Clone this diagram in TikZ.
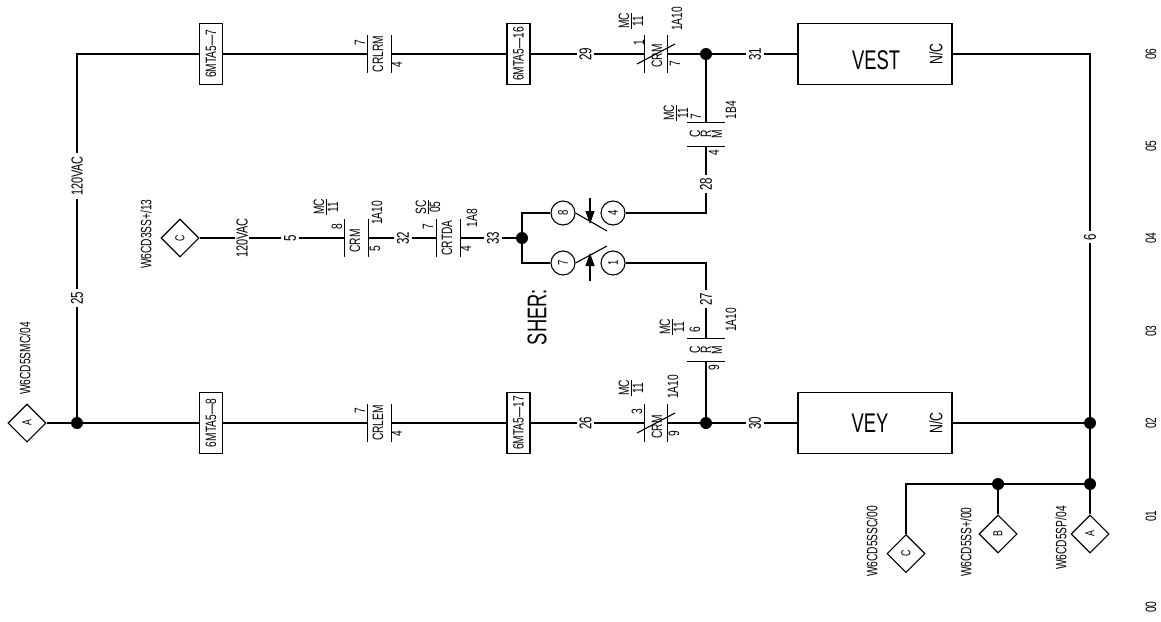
\documentclass[tikz,border=0pt]{standalone}
\usepackage{fontspec}
\setmainfont[FakeStretch=0.68]{Liberation Sans}
\usetikzlibrary{positioning,shapes.geometric,arrows.meta}

\tikzset{
	wire/.style={line width=1.1pt},
	lab/.style={rotate=90, inner sep=0pt, font=\fontsize{15}{14}\selectfont, align=center},
	num/.style={lab, inner sep=2.5pt, font=\fontsize{17}{14}\selectfont},
	tag/.style={lab, draw, line width=1.1pt, fill=white, minimum width=61pt, minimum height=23pt, inner sep=0pt},
	dot/.style={circle, fill=black, minimum size=12pt, inner sep=0pt},
	pin/.style={diamond, draw, line width=1.1pt, aspect=1, minimum size=38pt, inner sep=0pt, font=\fontsize{13}{13}\selectfont},
	ring/.style={circle, draw, line width=1.1pt, minimum size=24pt, inner sep=0pt, font=\fontsize{14}{14}\selectfont},
	coil/.style={draw, line width=1.1pt, minimum width=154pt, minimum height=61pt, inner sep=0pt},
	contact/.style={minimum width=38pt, minimum height=23.4pt, inner sep=0pt,
		append after command={
			(\tikzlastnode.north west) edge[wire] (\tikzlastnode.north east)
			(\tikzlastnode.south west) edge[wire] (\tikzlastnode.south east)}},
	big/.style={inner sep=0pt, font=\fontsize{27}{28}\selectfont},
}

\begin{document}
\begin{tikzpicture}[x=1pt, y=-1pt, on grid]
	\useasboundingbox (0,0) rectangle (1161,621);

	% bottom rail
	\node [dot] (j1) at (77,423) {};
	\node [pin, left=50pt of j1] (pinA) {\rotatebox{90}{A}};
	\node [tag, right=134pt of j1] (tag8) {6MTA5---8};
	\node [contact, rotate=90, right=168.5pt of tag8] (crlem) {};
	\node [tag, right=139pt of crlem] (tag17) {6MTA5---17};
	\node [num, right=67pt of tag17] (w26) {26};
	\node [contact, rotate=90, right=70.5pt of w26] (crmb) {};
	\node [dot, right=50pt of crmb] (j2) {};
	\node [num, right=49pt of j2] (w30) {30};
	\node [coil, right=120pt of w30] (vey) {};
	\node [dot, right=215pt of vey] (j3) {};
	\node [dot, below=61pt of j3] (j4) {};
	\node [dot, left=92pt of j4] (j5) {};
	\coordinate [left=92pt of j5] (cc);
	\node [pin, below=50pt of j4] (pinA2) {\rotatebox{90}{A}};
	\node [pin, below=50pt of j5] (pinB) {\rotatebox{90}{B}};
	\node [pin, below=50pt of cc] (pinC2) {\rotatebox{90}{C}};

	% top rail
	\coordinate [above=369pt of j1] (ctl);
	\node [tag, above=369pt of tag8] (tag7) {6MTA5---7};
	\node [contact, rotate=90, above=369pt of crlem] (crlrm) {};
	\node [tag, above=369pt of tag17] (tag16) {6MTA5---16};
	\node [num, above=369pt of w26] (w29) {29};
	\node [contact, rotate=90, above=369pt of crmb] (crmt) {};
	\node [dot, above=369pt of j2] (j6) {};
	\node [num, above=369pt of w30] (w31) {31};
	\node [coil, above=369pt of vey] (vest) {};
	\coordinate [above=369pt of j3] (ctr);

	% side wires
	\node [num, font=\fontsize{16}{14}\selectfont] (w120) at (77,176) {120VAC};
	\node [num] (w25) at (77,298) {25};
	\node [num, above=186pt of j3] (w6) {6};

	% middle branch
	\node [dot] (j7) at (522,238) {};
	\node [num, left=29pt of j7] (w33) {33};
	\node [contact, rotate=90, left=44.5pt of w33] (crtda) {};
	\node [num, left=45.5pt of crtda] (w32) {32};
	\node [contact, rotate=90, left=46.5pt of w32] (crm) {};
	\node [num, left=66.5pt of crm] (w5) {5};
	\node [num, font=\fontsize{16}{14}\selectfont, inner sep=1pt, left=53pt of w5, yshift=-5pt] (v120) {120VAC};
	\node [pin, left=110pt of w5] (pinC) {\rotatebox{90}{C}};

	% timer switches
	\node [ring, above right=25pt and 41pt of j7] (r8) {\rotatebox{90}{8}};
	\node [ring, below right=25pt and 41pt of j7] (r7) {\rotatebox{90}{7}};
	\node [ring, right=50pt of r8] (r4) {\rotatebox{90}{4}};
	\node [ring, right=50pt of r7] (r1) {\rotatebox{90}{1}};
	\coordinate [above=25pt of j7] (ct1);
	\coordinate [below=25pt of j7] (ct2);
	\coordinate [right=184pt of ct1] (ct3);
	\coordinate [right=184pt of ct2] (ct4);
	\coordinate (arm8) at (607,231);
	\coordinate (arm7) at (607,246);
	\coordinate (a8s) at (590,198);
	\coordinate (a8e) at (590,224);
	\coordinate (a7s) at (590,281);
	\coordinate (a7e) at (590,253);

	% right hand branches
	\node [contact, below=80.5pt of j6] (crmu) {};
	\node [num, below=130pt of j6] (w28) {28};
	\node [contact, above=73pt of j2] (crml) {};
	\node [num, above=124pt of j2] (w27) {27};

	\draw [wire] (pinA) -- (j1) -- (tag8) -- (crlem) -- (tag17) -- (w26) -- (crmb) -- (j2) -- (w30) -- (vey) -- (j3);
	\draw [wire] (j1) -- (w25) -- (w120) -- (ctl) -- (tag7) -- (crlrm) -- (tag16) -- (w29) -- (crmt) -- (j6) -- (w31) -- (vest) -- (ctr) -- (w6) -- (j3) -- (j4) -- (pinA2);
	\draw [wire] (j4) -- (j5) -- (cc) -- (pinC2);
	\draw [wire] (j5) -- (pinB);
	\draw [wire] (pinC) -- (v120.north |- pinC);
	\draw [wire] (v120.south |- pinC) -- (w5) -- (crm) -- (w32) -- (crtda) -- (w33) -- (j7);
	\draw [wire] (r8) -- (ct1) -- (j7) -- (ct2) -- (r7);
	\draw [wire] (r4) -- (ct3) -- (w28) -- (crmu) -- (j6);
	\draw [wire] (r1) -- (ct4) -- (w27) -- (crml) -- (j2);
	\draw [wire] (r8.east) -- (arm8);
	\draw [wire] (r7.east) -- (arm7);
	\draw [wire, -{Triangle[length=13pt,width=9pt]}] (a8s) -- (a8e);
	\draw [wire, -{Triangle[length=13pt,width=9pt]}] (a7s) -- (a7e);
	\draw [wire] ([shift={(-19,10)}]crmt.center) -- ([shift={(19,-10)}]crmt.center);
	\draw [wire] ([shift={(-19,10)}]crmb.center) -- ([shift={(19,-10)}]crmb.center);

	% coil texts
	\node [big, left=5pt of vey] (veyn) {VEY};
	\node [big, right=1pt of vest, yshift=-6pt] (vestn) {VEST};
	\node [lab, font=\fontsize{18}{18}\selectfont, right=61pt of vey] (ncb) {N/C};
	\node [lab, font=\fontsize{18}{18}\selectfont, right=61pt of vest] (nct) {N/C};
	\node [big, rotate=90] (sher) at (537,317) {SHER:};

	% pin texts
	\node [lab, anchor=west] (p1) at (25,395) {W6CD5SMC/04};
	\node [lab, anchor=west] (p2) at (146,269) {W6CD3SS+/13};
	\node [lab, anchor=west] (p3) at (872,577) {W6CD5SSC/00};
	\node [lab, anchor=west] (p4) at (966,577) {W6CD5SS+/00};
	\node [lab, anchor=west] (p5) at (1061,570) {W6CD5SP/04};

	% contact texts, left column
	\node [lab] at (360,43) {7};
	\node [lab] at (378,54) {CRLRM};
	\node [lab] at (397,65) {4};
	\node [lab] at (360,411) {7};
	\node [lab] at (378,423) {CRLEM};
	\node [lab] at (397,434) {4};

	% contact texts, middle branch
	\node [lab] at (326,207) {\underline{MC}\\11};
	\node [lab] at (337,227) {8};
	\node [lab] at (355,241) {CRM};
	\node [lab] at (375,249) {5};
	\node [lab] at (377,213) {1A10};
	\node [lab] at (428,207) {\underline{SC}\\05};
	\node [lab] at (428,227) {7};
	\node [lab] at (447,238) {CRTDA};
	\node [lab] at (466,249) {4};
	\node [lab] at (472,218) {1A8};

	% contact texts, slashed ones
	\node [lab] at (631,21) {\underline{MC}\\11};
	\node [lab] at (639,43) {1};
	\node [lab] at (657,56) {CRM};
	\node [lab] at (675,64) {7};
	\node [lab] at (677,19) {1A10};
	\node [lab] at (631,388) {\underline{MC}\\11};
	\node [lab] at (637,412) {3};
	\node [lab] at (657,427) {CRM};
	\node [lab] at (674,434) {9};
	\node [lab] at (673,387) {1A10};

	% contact texts, right branches
	\node [lab] at (676,113) {\underline{MC}\\11};
	\node [lab] at (696,117) {7};
	\node [lab, font=\fontsize{15}{11}\selectfont] at (706,134) {C\\R\\M};
	\node [lab] at (714,153) {4};
	\node [lab] at (731,110) {1B4};
	\node [lab] at (672,327) {\underline{MC}\\11};
	\node [lab] at (695,330) {6};
	\node [lab, font=\fontsize{15}{11}\selectfont] at (706,350) {C\\R\\M};
	\node [lab] at (714,368) {9};
	\node [lab] at (731,320) {1A10};

	% row numbers
	\foreach \row/\ypos in {00/607,01/516,02/423,03/331,04/238,05/146,06/54}
		\node [lab] (row\row) at (1151,\ypos) {\row};
\end{tikzpicture}
\end{document}
